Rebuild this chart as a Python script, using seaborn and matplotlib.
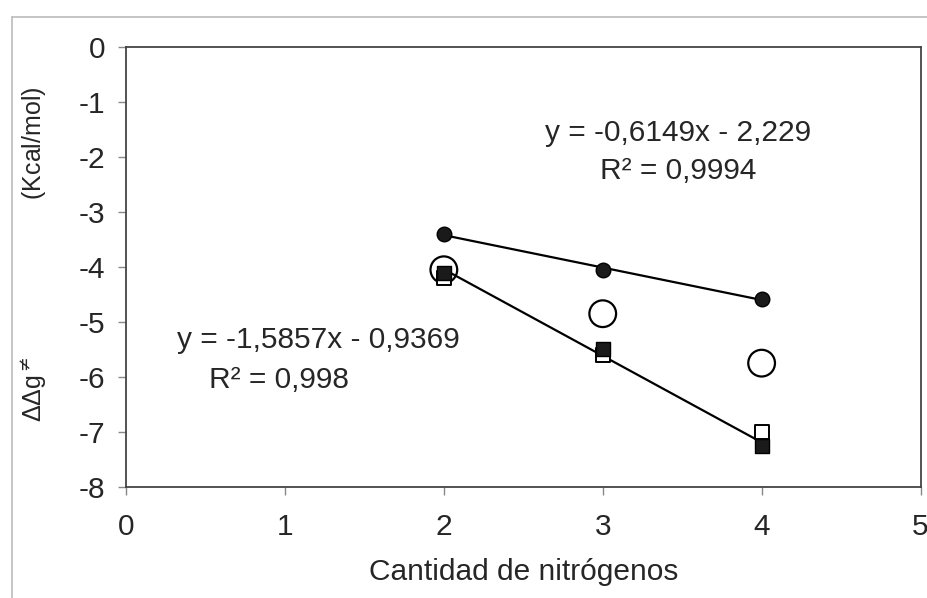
import numpy as np
import pandas as pd
import matplotlib
matplotlib.use("Agg")
import matplotlib.pyplot as plt
from matplotlib.lines import Line2D
import seaborn as sns

# --- datos ---
nitrogenos = [2, 3, 4]
circ_llenos = [-3.40, -4.05, -4.58]
circ_vacios = [-4.05, -4.85, -5.75]
cuad_llenos = [-4.10, -5.50, -7.25]
cuad_vacios = [-4.20, -5.60, -7.00]

eq_sup = ["y = -0,6149x - 2,229", "R² = 0,9994"]
eq_inf = ["y = -1,5857x - 0,9369", "R² = 0,998"]

sns.set_theme(style="white")
plt.rcParams["font.family"] = ["Liberation Sans", "DejaVu Sans"]
plt.rcParams["mathtext.fontset"] = "dejavusans"
plt.rcParams["axes.unicode_minus"] = False

fig = plt.figure(figsize=(9.27, 5.98), dpi=100)
ax = fig.add_axes([0.136, 0.186, 0.857, 0.735])

df = pd.DataFrame({"x": nitrogenos, "cl": circ_llenos, "cv": circ_vacios,
                   "ql": cuad_llenos, "qv": cuad_vacios})

# lineas de tendencia
sns.regplot(data=df, x="x", y="cl", ax=ax, scatter=False, ci=None, truncate=True,
            line_kws={"color": "black", "lw": 1.6})
sns.regplot(data=df, x="x", y="ql", ax=ax, scatter=False, ci=None, truncate=True,
            line_kws={"color": "black", "lw": 1.6})

sns.scatterplot(data=df, x="x", y="cv", ax=ax, marker="o", s=370,
                facecolor="none", edgecolor="black", linewidth=1.6, zorder=3)
sns.scatterplot(data=df, x="x", y="qv", ax=ax, marker="s", s=110,
                color="white", edgecolor="black", linewidth=1.4, zorder=4)
sns.scatterplot(data=df, x="x", y="ql", ax=ax, marker="s", s=110,
                color="#1a1a1a", edgecolor="black", linewidth=1.0, zorder=5)
sns.scatterplot(data=df, x="x", y="cl", ax=ax, marker="o", s=110,
                color="#1a1a1a", edgecolor="black", linewidth=1.0, zorder=5)

ax.set_xlim(0, 5)
ax.set_ylim(-8, 0)
ax.set_xticks(range(0, 6))
ax.set_yticks(range(-8, 1))
ax.tick_params(axis="both", labelsize=21.5, length=6, width=1, color="#888888",
               direction="out", bottom=True, left=True, pad=9)
ax.tick_params(axis="x", pad=13)
for sp in ax.spines.values():
    sp.set_color("#444444")
    sp.set_linewidth(1.3)

ax.set_xlabel("Cantidad de nitrógenos", fontsize=21.5, labelpad=12)
ax.set_ylabel(r"ΔΔg$^{\neq}$" + " " * 22 + "(Kcal/mol)", fontsize=18)
ax.yaxis.set_label_coords(-0.097, 0.53)

fs = 21.5
ax.text(3.476, -1.56, eq_sup[0], ha="center", va="center", fontsize=fs)
ax.text(3.476, -2.25, eq_sup[1], ha="center", va="center", fontsize=fs)
ax.text(1.21, -5.33, eq_inf[0], ha="center", va="center", fontsize=fs)
ax.text(0.96, -6.05, eq_inf[1], ha="center", va="center", fontsize=fs)

# marco exterior
fig.add_artist(Line2D([12 / 927, 12 / 927], [0, 1 - 17 / 598], color="#bbbbbb", lw=1.2))
fig.add_artist(Line2D([12 / 927, 1], [1 - 17 / 598, 1 - 17 / 598], color="#bbbbbb", lw=1.2))

fig.savefig("out.png", dpi=100)
